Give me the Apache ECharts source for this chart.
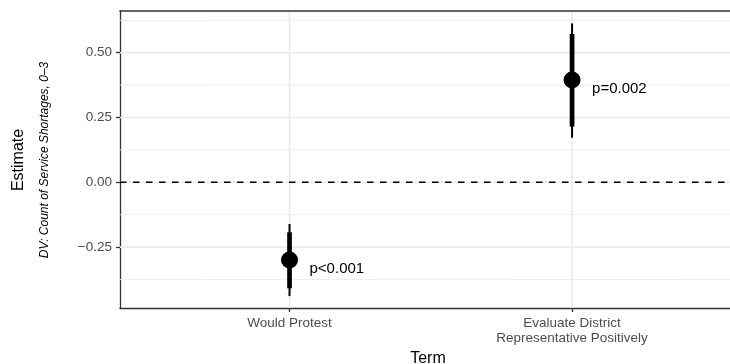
<!DOCTYPE html>
<html><head><meta charset="utf-8">
<script src="https://cdn.jsdelivr.net/npm/echarts@6/dist/echarts.min.js"></script>
<style>html,body{margin:0;padding:0;background:#fff}#c{width:730px;height:364px}</style>
</head><body><div id="c"></div>
<script>
const terms = ['Would Protest', 'Evaluate District\nRepresentative Positively'];
const xPositions = [1, 2];
const estimates = [-0.300, 0.395];
const ci90Low = [-0.409, 0.215];
const ci90High = [-0.193, 0.572];
const ci95Low = [-0.439, 0.172];
const ci95High = [-0.161, 0.613];
const pLabels = ['p<0.001', 'p=0.002'];
const yTicks = [-0.25, 0, 0.25, 0.5];
const yMinorGrid = [-0.375, -0.125, 0.125, 0.375, 0.625];
const yMin = -0.485, yMax = 0.661;
const xMin = 0.4, xMax = 2.559;

const FONT = '"Liberation Sans", Arial, Helvetica, sans-serif';
const chart = echarts.init(document.getElementById('c'), null, {renderer: 'canvas'});

const hGrid = yTicks.map(v => [v, 1]).concat(yMinorGrid.map(v => [v, 0]));
const pointData = xPositions.map((x, i) => [x, estimates[i], ci95Low[i], ci95High[i], ci90Low[i], ci90High[i]]);
const axisColor = '#333';

chart.setOption({
  animation: false,
  backgroundColor: '#fff',
  grid: {left: 120, top: 11, right: 0, bottom: 56, show: false, containLabel: false, outerBoundsMode: 'none'},
  xAxis: {
    type: 'value', min: xMin, max: xMax,
    name: 'Term', nameLocation: 'middle', nameGap: 41,
    nameTextStyle: {fontFamily: FONT, fontSize: 16, color: '#000', padding: [0, 0, 0, 6]},
    axisLine: {show: true, onZero: false, lineStyle: {color: axisColor, width: 1.3}},
    splitLine: {show: false},
    axisTick: {show: true, customValues: xPositions, length: 4, lineStyle: {color: axisColor, width: 1.3}},
    axisLabel: {customValues: xPositions, margin: 8, fontFamily: FONT, fontSize: 13.5, color: '#4d4d4d', lineHeight: 15,
      formatter: v => terms[xPositions.indexOf(v)] || ''}
  },
  yAxis: {
    type: 'value', min: yMin, max: yMax,
    axisLine: {show: true, onZero: false, lineStyle: {color: axisColor, width: 1.3}},
    splitLine: {show: false},
    axisTick: {show: true, customValues: yTicks, length: 4, lineStyle: {color: axisColor, width: 1.3}},
    axisLabel: {customValues: yTicks, margin: 8, fontFamily: FONT, fontSize: 13.5, color: '#4d4d4d',
      formatter: v => v.toFixed(2).replace('-', '\u2212')}
  },
  graphic: [
    {type: 'text', x: 19, y: 160, rotation: Math.PI / 2,
      style: {text: 'Estimate', fontFamily: FONT, fontSize: 16, fill: '#000', align: 'center', verticalAlign: 'middle'}},
    {type: 'text', x: 45, y: 160, rotation: Math.PI / 2,
      style: {text: 'DV: Count of Service Shortages, 0\u20133', fontFamily: FONT, fontSize: 12, fontStyle: 'italic', fill: '#000', align: 'center', verticalAlign: 'middle'}}
  ],
  series: [
    {
      type: 'custom', z: 1, silent: true, clip: false,
      data: hGrid,
      renderItem: function (params, api) {
        const v = api.value(0);
        const a = api.coord([xMin, v]);
        const b = api.coord([xMax, v]);
        const major = api.value(1) === 1;
        return {type: 'line', shape: {x1: a[0], y1: a[1], x2: b[0], y2: b[1]},
          style: {stroke: '#ebebeb', lineWidth: major ? 1.6 : 0.8}};
      }
    },
    {
      type: 'custom', z: 1, silent: true, clip: false,
      data: xPositions.map(x => [x]),
      renderItem: function (params, api) {
        const x = api.value(0);
        const a = api.coord([x, yMin]);
        const b = api.coord([x, yMax]);
        return {type: 'line', shape: {x1: a[0], y1: a[1], x2: b[0], y2: b[1]},
          style: {stroke: '#ebebeb', lineWidth: 1.6}};
      }
    },
    {
      type: 'custom', z: 3, silent: true, clip: false,
      data: [[yMax]],
      renderItem: function (params, api) {
        const v = api.value(0);
        const a = api.coord([xMin, v]);
        const b = api.coord([xMax, v]);
        return {type: 'line', shape: {x1: a[0] - 0.65, y1: a[1], x2: b[0], y2: b[1]},
          style: {stroke: axisColor, lineWidth: 1.3}};
      }
    },
    {
      type: 'custom', z: 2, silent: true, clip: false,
      data: [[0]],
      renderItem: function (params, api) {
        const v = api.value(0);
        const a = api.coord([xMin, v]);
        const b = api.coord([xMax, v]);
        return {type: 'line', shape: {x1: a[0], y1: a[1], x2: b[0], y2: b[1]},
          style: {stroke: '#000', lineWidth: 1.6, lineDash: [6.5, 6.5]}};
      }
    },
    {
      type: 'custom', z: 5, silent: true, clip: false,
      data: pointData,
      renderItem: function (params, api) {
        const x = api.value(0);
        const p = api.coord([x, api.value(1)]);
        const l95 = api.coord([x, api.value(2)]);
        const h95 = api.coord([x, api.value(3)]);
        const l90 = api.coord([x, api.value(4)]);
        const h90 = api.coord([x, api.value(5)]);
        return {type: 'group', children: [
          {type: 'line', shape: {x1: l95[0], y1: l95[1], x2: h95[0], y2: h95[1]}, style: {stroke: '#000', lineWidth: 2}},
          {type: 'line', shape: {x1: l90[0], y1: l90[1], x2: h90[0], y2: h90[1]}, style: {stroke: '#000', lineWidth: 4.7}},
          {type: 'circle', shape: {cx: p[0], cy: p[1], r: 8.5}, style: {fill: '#000'}},
          {type: 'text', x: p[0] + 20, y: p[1] + 8.5,
            style: {text: pLabels[params.dataIndex], fontFamily: FONT, fontSize: 15, fill: '#000', align: 'left', verticalAlign: 'middle'}}
        ]};
      }
    }
  ]
});
</script>
</body></html>
